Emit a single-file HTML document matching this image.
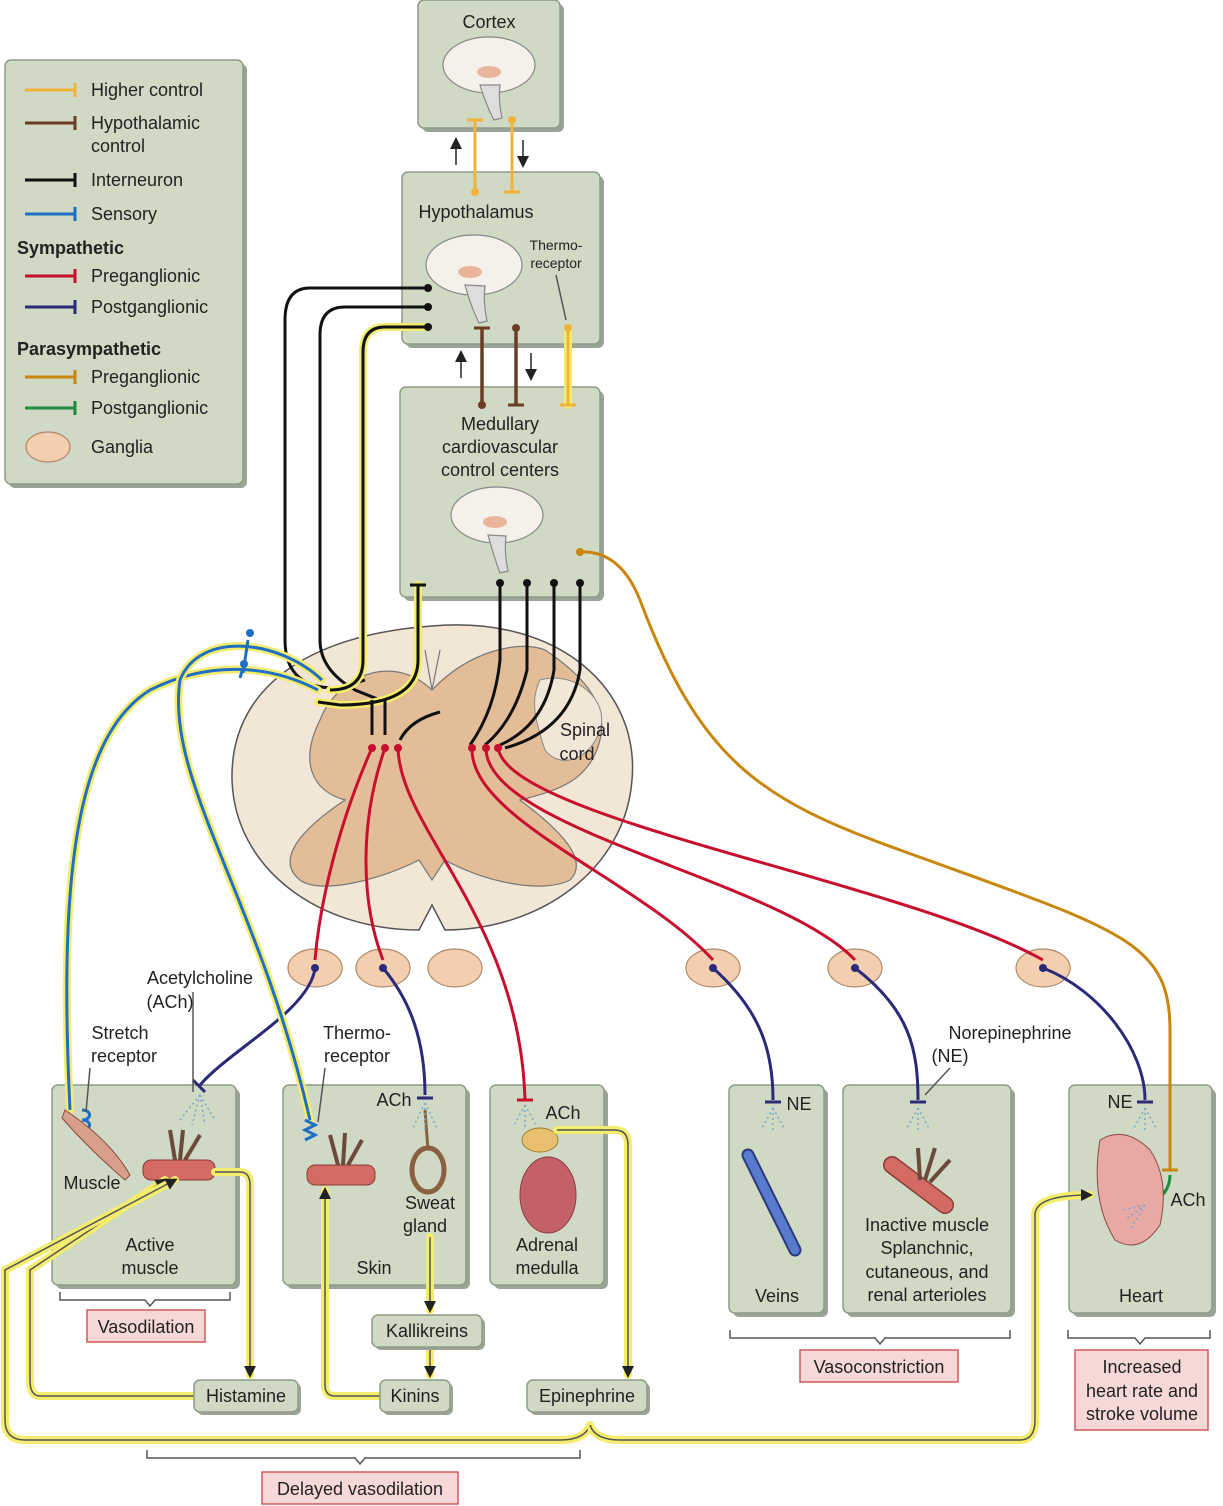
<!DOCTYPE html>
<html><head><meta charset="utf-8"><style>
html,body{margin:0;padding:0;background:#fff;}
svg{display:block;font-family:"Liberation Sans",Arial,sans-serif;}
.box{fill:#cfd9c4;stroke:#8e9c86;stroke-width:1.5;}
.sh{fill:#9aa395;}
.pink{fill:#f6d8d6;stroke:#d0595c;stroke-width:1.5;}
.t{font-size:18px;fill:#222;}
.ts{font-size:14px;fill:#222;}
.yel{fill:none;stroke:#f4ec6c;stroke-width:8;stroke-linecap:round;}
.blu{fill:none;stroke:#1f6fc4;stroke-width:3;}
.blk{fill:none;stroke:#111;stroke-width:3;}
.red{fill:none;stroke:#c8102e;stroke-width:3;}
.nav{fill:none;stroke:#2a2a78;stroke-width:3;}
.org{fill:none;stroke:#c8860c;stroke-width:3;}
.grn{fill:none;stroke:#1e8c3a;stroke-width:3;}
.brn{fill:none;stroke:#6b3c24;stroke-width:3.5;}
.gry{fill:none;stroke:#555;stroke-width:1.5;}
.gan{fill:#f3cfb0;stroke:#b08868;stroke-width:1.2;}
</style></head><body>
<svg width="1223" height="1506" viewBox="0 0 1223 1506" xmlns="http://www.w3.org/2000/svg">
<defs>
<marker id="ar" markerWidth="8" markerHeight="8" refX="6" refY="4" orient="auto"><path d="M0,0 L8,4 L0,8 z" fill="#222"/></marker>
</defs>

<!-- Boxes with shadow -->
<g>
<rect class="sh" x="9" y="64" width="238" height="424" rx="6"/><rect class="box" x="5" y="60" width="238" height="424" rx="6"/>
<rect class="sh" x="422" y="4" width="142" height="128" rx="6"/><rect class="box" x="418" y="0" width="142" height="128" rx="6"/>
<rect class="sh" x="406" y="176" width="198" height="172" rx="6"/><rect class="box" x="402" y="172" width="198" height="172" rx="6"/>
<rect class="sh" x="404" y="391" width="200" height="210" rx="6"/><rect class="box" x="400" y="387" width="200" height="210" rx="6"/>
<rect class="sh" x="56" y="1089" width="184" height="200" rx="6"/><rect class="box" x="52" y="1085" width="184" height="200" rx="6"/>
<rect class="sh" x="287" y="1089" width="183" height="200" rx="6"/><rect class="box" x="283" y="1085" width="183" height="200" rx="6"/>
<rect class="sh" x="494" y="1089" width="114" height="200" rx="6"/><rect class="box" x="490" y="1085" width="114" height="200" rx="6"/>
<rect class="sh" x="733" y="1089" width="95" height="228" rx="6"/><rect class="box" x="729" y="1085" width="95" height="228" rx="6"/>
<rect class="sh" x="847" y="1089" width="168" height="228" rx="6"/><rect class="box" x="843" y="1085" width="168" height="228" rx="6"/>
<rect class="sh" x="1073" y="1089" width="143" height="228" rx="6"/><rect class="box" x="1069" y="1085" width="143" height="228" rx="6"/>
</g>

<!-- Legend -->
<g>
<line x1="25" y1="90" x2="75" y2="90" stroke="#f0b43a" stroke-width="3"/><line x1="75" y1="83" x2="75" y2="97" stroke="#f0b43a" stroke-width="3"/>
<text class="t" x="91" y="96">Higher control</text>
<line x1="25" y1="123" x2="75" y2="123" stroke="#6b3c24" stroke-width="3"/><line x1="75" y1="116" x2="75" y2="130" stroke="#6b3c24" stroke-width="3"/>
<text class="t" x="91" y="129">Hypothalamic</text><text class="t" x="91" y="152">control</text>
<line x1="25" y1="180" x2="75" y2="180" stroke="#111" stroke-width="3"/><line x1="75" y1="173" x2="75" y2="187" stroke="#111" stroke-width="3"/>
<text class="t" x="91" y="186">Interneuron</text>
<line x1="25" y1="214" x2="75" y2="214" stroke="#1f6fc4" stroke-width="3"/><line x1="75" y1="207" x2="75" y2="221" stroke="#1f6fc4" stroke-width="3"/>
<text class="t" x="91" y="220">Sensory</text>
<text class="t" x="17" y="254" font-weight="bold">Sympathetic</text>
<line x1="25" y1="276" x2="75" y2="276" stroke="#c8102e" stroke-width="3"/><line x1="75" y1="269" x2="75" y2="283" stroke="#c8102e" stroke-width="3"/>
<text class="t" x="91" y="282">Preganglionic</text>
<line x1="25" y1="307" x2="75" y2="307" stroke="#2a2a78" stroke-width="3"/><line x1="75" y1="300" x2="75" y2="314" stroke="#2a2a78" stroke-width="3"/>
<text class="t" x="91" y="313">Postganglionic</text>
<text class="t" x="17" y="355" font-weight="bold">Parasympathetic</text>
<line x1="25" y1="377" x2="75" y2="377" stroke="#c8860c" stroke-width="3"/><line x1="75" y1="370" x2="75" y2="384" stroke="#c8860c" stroke-width="3"/>
<text class="t" x="91" y="383">Preganglionic</text>
<line x1="25" y1="408" x2="75" y2="408" stroke="#1e8c3a" stroke-width="3"/><line x1="75" y1="401" x2="75" y2="415" stroke="#1e8c3a" stroke-width="3"/>
<text class="t" x="91" y="414">Postganglionic</text>
<ellipse class="gan" cx="48" cy="447" rx="22" ry="15"/>
<text class="t" x="91" y="453">Ganglia</text>
</g>

<!-- Brains -->
<g fill="#f4f0ea" stroke="#888" stroke-width="1.2">
<ellipse cx="489" cy="65" rx="46" ry="28"/><path d="M480,85 q6,20 14,35 l8,-2 q-4,-18 -2,-33z" fill="#ddd"/>
<ellipse cx="474" cy="265" rx="48" ry="30"/><path d="M465,285 q6,22 14,38 l8,-2 q-4,-20 -2,-35z" fill="#ddd"/>
<ellipse cx="497" cy="515" rx="46" ry="28"/><path d="M488,535 q6,22 12,38 l8,-2 q-4,-20 -2,-35z" fill="#ddd"/>
</g>
<g fill="#e9b59a" stroke="none"><ellipse cx="489" cy="72" rx="12" ry="6"/><ellipse cx="470" cy="272" rx="12" ry="6"/><ellipse cx="495" cy="522" rx="12" ry="6"/></g>

<text class="t" x="489" y="28" text-anchor="middle">Cortex</text>
<text class="t" x="476" y="218" text-anchor="middle">Hypothalamus</text>
<text class="ts" x="556" y="250" text-anchor="middle">Thermo-</text><text class="ts" x="556" y="268" text-anchor="middle">receptor</text>
<line class="gry" x1="556" y1="275" x2="566" y2="320"/>
<text class="t" x="500" y="430" text-anchor="middle">Medullary</text>
<text class="t" x="500" y="453" text-anchor="middle">cardiovascular</text>
<text class="t" x="500" y="476" text-anchor="middle">control centers</text>

<!-- small arrows between boxes -->
<line x1="456" y1="165" x2="456" y2="140" stroke="#222" stroke-width="1.5" marker-end="url(#ar)"/>
<line x1="523" y1="140" x2="523" y2="165" stroke="#222" stroke-width="1.5" marker-end="url(#ar)"/>
<line x1="461" y1="378" x2="461" y2="353" stroke="#222" stroke-width="1.5" marker-end="url(#ar)"/>
<line x1="531" y1="353" x2="531" y2="378" stroke="#222" stroke-width="1.5" marker-end="url(#ar)"/>

<!-- higher control -->
<line x1="475" y1="120" x2="475" y2="192" stroke="#f0b43a" stroke-width="3"/><line x1="467" y1="120" x2="483" y2="120" stroke="#f0b43a" stroke-width="3"/><circle cx="475" cy="192" r="4" fill="#f0b43a"/>
<line x1="512" y1="120" x2="512" y2="192" stroke="#f0b43a" stroke-width="3"/><line x1="504" y1="192" x2="520" y2="192" stroke="#f0b43a" stroke-width="3"/><circle cx="512" cy="120" r="4" fill="#f0b43a"/>
<!-- hypothalamic -->
<line class="brn" x1="482" y1="328" x2="482" y2="405"/><line x1="474" y1="328" x2="490" y2="328" stroke="#6b3c24" stroke-width="3"/><circle cx="482" cy="405" r="4" fill="#6b3c24"/>
<line class="brn" x1="516" y1="328" x2="516" y2="405"/><line x1="508" y1="405" x2="524" y2="405" stroke="#6b3c24" stroke-width="3"/><circle cx="516" cy="328" r="4" fill="#6b3c24"/>
<line class="yel" x1="568" y1="328" x2="568" y2="405" stroke-width="8"/><line x1="568" y1="328" x2="568" y2="405" stroke="#f0b43a" stroke-width="3"/><line x1="560" y1="405" x2="576" y2="405" stroke="#f0b43a" stroke-width="3"/><circle cx="568" cy="328" r="4" fill="#f0b43a"/>

<!-- Spinal cord -->
<path d="M432,626 C560,615 640,690 632,780 C625,870 540,930 445,930 L432,905 L419,930 C320,930 235,870 232,780 C230,690 305,635 432,626z" fill="#f2e6d6" stroke="#555" stroke-width="1.5"/>
<path d="M432,690 C470,650 520,640 545,650 C575,670 610,700 600,740 C590,780 560,790 520,800 C560,830 590,860 570,880 C540,895 480,880 445,860 L432,880 L419,860 C380,880 320,895 300,880 C275,860 300,830 345,800 C310,790 300,760 320,720 C335,680 390,650 432,690z" fill="#e3bd98" stroke="#777" stroke-width="1.2"/>
<path d="M425,650 L432,690 L440,650" fill="none" stroke="#777" stroke-width="1.2"/>
<path d="M540,680 C575,670 610,700 600,730 C590,760 560,770 545,750 C535,720 530,700 540,680z" fill="#f2e6d6" stroke="#888" stroke-width="1"/>
<text class="t" x="585" y="736" text-anchor="middle">Spinal</text><text class="t" x="577" y="760" text-anchor="middle">cord</text>

<!-- Ganglia -->
<g>
<ellipse class="gan" cx="315" cy="968" rx="27" ry="19"/>
<ellipse class="gan" cx="383" cy="968" rx="27" ry="19"/>
<ellipse class="gan" cx="455" cy="968" rx="27" ry="19"/>
<ellipse class="gan" cx="713" cy="968" rx="27" ry="19"/>
<ellipse class="gan" cx="855" cy="968" rx="27" ry="19"/>
<ellipse class="gan" cx="1043" cy="968" rx="27" ry="19"/>
</g>

<!-- interneurons from hypothalamus -->
<path class="blk" d="M428,288 L310,288 Q285,288 285,320 L285,640 Q285,690 340,688 L365,680"/>
<path class="blk" d="M428,307 L345,307 Q320,307 320,335 L320,640 Q320,670 355,690 L380,700"/>
<path class="yel" d="M428,327 L385,327 Q363,327 363,352 L363,660 Q363,690 330,690"/>
<path class="blk" d="M428,327 L385,327 Q363,327 363,352 L363,660 Q363,690 330,690"/>
<circle cx="428" cy="288" r="4" fill="#111"/><circle cx="428" cy="307" r="4" fill="#111"/><circle cx="428" cy="327" r="4" fill="#111"/>
<!-- medullary yellow-outlined interneuron -->
<path class="yel" d="M418,585 L418,660 Q418,705 340,705 L318,702"/>
<path class="blk" d="M418,585 L418,660 Q418,705 340,705 L318,702"/>
<line x1="410" y1="585" x2="426" y2="585" stroke="#111" stroke-width="3"/>
<path class="blk" d="M372,700 L372,735"/><path class="blk" d="M385,700 L385,735"/>
<path class="blk" d="M440,712 Q410,720 400,740"/>
<!-- medullary interneurons to right -->
<path class="blk" d="M500,583 L500,660 Q495,710 470,745"/>
<path class="blk" d="M527,583 L527,670 Q515,720 485,745"/>
<path class="blk" d="M554,583 L554,670 Q545,725 500,745"/>
<path class="blk" d="M580,583 L580,670 Q570,730 505,748"/>
<g fill="#111"><circle cx="500" cy="583" r="4"/><circle cx="527" cy="583" r="4"/><circle cx="554" cy="583" r="4"/><circle cx="580" cy="583" r="4"/></g>

<!-- parasympathetic to heart -->
<path class="org" d="M580,552 Q620,550 640,600 C700,760 760,800 900,850 C1120,930 1170,940 1170,1030 L1170,1170"/>
<circle cx="580" cy="552" r="4" fill="#c8860c"/>
<line x1="1162" y1="1170" x2="1178" y2="1170" stroke="#c8860c" stroke-width="3"/>
<path class="grn" d="M1170,1175 Q1170,1195 1148,1205"/>

<!-- preganglionic red -->
<path class="red" d="M372,748 C340,820 320,900 315,960"/>
<path class="red" d="M385,748 C360,820 360,900 383,960"/>
<path class="red" d="M398,748 C400,830 520,920 525,1100"/>
<path class="red" d="M472,748 C470,820 640,880 713,960"/>
<path class="red" d="M486,748 C486,830 780,880 855,960"/>
<path class="red" d="M498,748 C510,820 900,880 1043,960"/>
<g fill="#c8102e"><circle cx="372" cy="748" r="4"/><circle cx="385" cy="748" r="4"/><circle cx="398" cy="748" r="4"/><circle cx="472" cy="748" r="4"/><circle cx="486" cy="748" r="4"/><circle cx="498" cy="748" r="4"/></g>
<line x1="517" y1="1100" x2="533" y2="1100" stroke="#c8102e" stroke-width="3"/>

<!-- postganglionic -->
<path class="nav" d="M315,968 C310,1010 230,1050 200,1085"/>
<path class="nav" d="M383,968 C410,1000 425,1040 425,1095"/>
<path class="nav" d="M713,968 C760,1010 773,1050 773,1100"/>
<path class="nav" d="M855,968 C910,1010 918,1050 918,1100"/>
<path class="nav" d="M1043,968 C1100,990 1145,1050 1145,1100"/>
<g stroke="#2a2a78" stroke-width="3"><line x1="193" y1="1080" x2="205" y2="1092"/><line x1="417" y1="1098" x2="433" y2="1098"/><line x1="765" y1="1102" x2="781" y2="1102"/><line x1="910" y1="1102" x2="926" y2="1102"/><line x1="1137" y1="1102" x2="1153" y2="1102"/></g>
<g fill="#2a2a78"><circle cx="315" cy="968" r="4"/><circle cx="383" cy="968" r="4"/><circle cx="713" cy="968" r="4"/><circle cx="855" cy="968" r="4"/><circle cx="1043" cy="968" r="4"/></g>

<!-- sensory -->
<path class="yel" d="M318,690 C270,665 210,660 150,690 C70,740 60,900 70,1110"/>
<path class="blu" d="M318,690 C270,665 210,660 150,690 C70,740 60,900 70,1110"/>
<path class="yel" d="M322,680 C280,640 200,630 180,680 C165,780 260,900 310,1120"/>
<path class="blu" d="M322,680 C280,640 200,630 180,680 C165,780 260,900 310,1120"/>
<path class="blu" d="M243,673 L248,640"/><circle cx="250" cy="633" r="4" fill="#1f6fc4"/>
<path class="blu" d="M240,678 L243,668"/><circle cx="244" cy="664" r="4" fill="#1f6fc4"/>
<path d="M305,1120 l10,5 l-10,5 l10,5 l-10,5" fill="none" stroke="#1f6fc4" stroke-width="3"/>
<path d="M82,1110 c10,0 10,10 0,10 c10,0 10,10 0,10" fill="none" stroke="#1f6fc4" stroke-width="3"/>

<!-- Organ shapes -->
<path d="M65,1110 Q110,1140 130,1175 L125,1180 Q90,1150 62,1118z" fill="#d8a08c" stroke="#8a4a3a" stroke-width="1"/>
<rect x="143" y="1160" width="72" height="20" rx="8" fill="#d46a64" stroke="#8a3a34"/>
<path d="M175,1160 L170,1130 M180,1160 L183,1130 M185,1160 L200,1135" stroke="#6b4a3a" stroke-width="4" fill="none"/>
<rect x="307" y="1165" width="68" height="20" rx="8" fill="#d46a64" stroke="#8a3a34"/>
<path d="M338,1165 L330,1135 M343,1165 L345,1133 M348,1165 L362,1140" stroke="#6b4a3a" stroke-width="4" fill="none"/>
<ellipse cx="428" cy="1170" rx="16" ry="22" fill="none" stroke="#8a6040" stroke-width="5"/>
<line x1="425" y1="1110" x2="428" y2="1150" stroke="#8a6040" stroke-width="3"/>
<ellipse cx="548" cy="1195" rx="28" ry="38" fill="#c4606a" stroke="#8a3a40"/>
<ellipse cx="540" cy="1140" rx="18" ry="12" fill="#e8c070" stroke="#a08040"/>
<path d="M748,1155 L795,1250" stroke="#2a3a78" stroke-width="13" stroke-linecap="round"/>
<path d="M748,1155 L795,1250" stroke="#5a7ad0" stroke-width="9" stroke-linecap="round"/>
<path d="M892,1165 L945,1205" stroke="#8a3a34" stroke-width="18" stroke-linecap="round"/>
<path d="M892,1165 L945,1205" stroke="#d46a64" stroke-width="15" stroke-linecap="round"/>
<path d="M920,1180 L918,1148 M925,1180 L935,1148 M930,1182 L950,1160" stroke="#6b4a3a" stroke-width="4" fill="none"/>
<path d="M1100,1140 Q1090,1200 1115,1240 Q1140,1255 1160,1225 Q1170,1180 1150,1150 Q1125,1125 1100,1140z" fill="#e8a8a4" stroke="#8a4a48"/>
<!-- spray dots -->
<g fill="none" stroke="#7aa8c8" stroke-width="1.5" stroke-dasharray="2,3">
<path d="M200,1095 l-20,25 M200,1095 l-8,30 M200,1095 l5,30 M200,1095 l15,25"/>
<path d="M425,1103 l-12,25 M425,1103 l0,28 M425,1103 l12,25"/>
<path d="M525,1105 l-12,22 M525,1105 l0,25 M525,1105 l12,22"/>
<path d="M773,1108 l-12,22 M773,1108 l0,25 M773,1108 l12,22"/>
<path d="M918,1108 l-12,22 M918,1108 l0,25 M918,1108 l12,22"/>
<path d="M1145,1108 l-12,22 M1145,1108 l0,25 M1145,1108 l12,22"/>
<path d="M1145,1205 l-20,15 M1145,1205 l-22,5 M1145,1205 l-15,25"/>
</g>

<!-- Organ labels -->
<g class="t">
<text class="t" x="200" y="984" text-anchor="middle">Acetylcholine</text><text class="t" x="170" y="1008" text-anchor="middle">(ACh)</text>
<text class="t" x="120" y="1039" text-anchor="middle">Stretch</text><text class="t" x="124" y="1062" text-anchor="middle">receptor</text>
<text class="t" x="357" y="1039" text-anchor="middle">Thermo-</text><text class="t" x="357" y="1062" text-anchor="middle">receptor</text>
<text class="t" x="1010" y="1039" text-anchor="middle">Norepinephrine</text><text class="t" x="950" y="1062" text-anchor="middle">(NE)</text>
<text class="t" x="92" y="1189" text-anchor="middle">Muscle</text>
<text class="t" x="150" y="1251" text-anchor="middle">Active</text><text class="t" x="150" y="1274" text-anchor="middle">muscle</text>
<text class="t" x="394" y="1106" text-anchor="middle">ACh</text>
<text class="t" x="430" y="1209" text-anchor="middle">Sweat</text><text class="t" x="425" y="1232" text-anchor="middle">gland</text>
<text class="t" x="374" y="1274" text-anchor="middle">Skin</text>
<text class="t" x="563" y="1119" text-anchor="middle">ACh</text>
<text class="t" x="547" y="1251" text-anchor="middle">Adrenal</text><text class="t" x="547" y="1274" text-anchor="middle">medulla</text>
<text class="t" x="799" y="1110" text-anchor="middle">NE</text>
<text class="t" x="777" y="1302" text-anchor="middle">Veins</text>
<text class="t" x="927" y="1231" text-anchor="middle">Inactive muscle</text><text class="t" x="927" y="1254" text-anchor="middle">Splanchnic,</text><text class="t" x="927" y="1278" text-anchor="middle">cutaneous, and</text><text class="t" x="927" y="1301" text-anchor="middle">renal arterioles</text>
<text class="t" x="1120" y="1108" text-anchor="middle">NE</text>
<text class="t" x="1188" y="1206" text-anchor="middle">ACh</text>
<text class="t" x="1141" y="1302" text-anchor="middle">Heart</text>
</g>
<g class="gry"><line x1="90" y1="1068" x2="86" y2="1112"/><line x1="193" y1="992" x2="193" y2="1092"/><line x1="325" y1="1068" x2="318" y2="1122"/><line x1="950" y1="1068" x2="925" y2="1095"/></g>

<!-- Humoral yellow pathways -->
<g>
<path class="yel" d="M215,1172 L240,1172 Q250,1172 250,1185 L250,1375"/>
<path class="gry" d="M215,1172 L240,1172 Q250,1172 250,1185 L250,1375" marker-end="url(#ar)"/>
<path class="yel" d="M194,1396 L40,1396 Q30,1396 30,1380 L30,1270 L165,1180"/>
<path class="gry" d="M194,1396 L40,1396 Q30,1396 30,1380 L30,1270 L165,1180" marker-end="url(#ar)"/>
<path class="yel" d="M590,1425 Q585,1440 560,1440 L25,1440 Q5,1440 5,1420 L5,1270 L175,1180"/>
<path class="gry" d="M590,1425 Q585,1440 560,1440 L25,1440 Q5,1440 5,1420 L5,1270 L175,1180" marker-end="url(#ar)"/>
<path class="yel" d="M590,1425 Q595,1440 620,1440 L1020,1440 Q1035,1440 1035,1420 L1035,1215 Q1035,1195 1090,1195"/>
<path class="gry" d="M590,1425 Q595,1440 620,1440 L1020,1440 Q1035,1440 1035,1420 L1035,1215 Q1035,1195 1090,1195" marker-end="url(#ar)"/>
<path class="yel" d="M557,1130 L615,1130 Q628,1130 628,1145 L628,1375"/>
<path class="gry" d="M557,1130 L615,1130 Q628,1130 628,1145 L628,1375" marker-end="url(#ar)"/>
<path class="yel" d="M430,1237 L430,1310"/><path class="gry" d="M430,1237 L430,1310" marker-end="url(#ar)"/>
<path class="yel" d="M430,1347 L430,1375"/><path class="gry" d="M430,1347 L430,1375" marker-end="url(#ar)"/>
<path class="yel" d="M380,1396 L335,1396 Q325,1396 325,1385 L325,1190"/>
<path class="gry" d="M380,1396 L335,1396 Q325,1396 325,1385 L325,1190" marker-end="url(#ar)"/>
</g>

<!-- small boxes -->
<rect class="sh" x="375" y="1318" width="110" height="32" rx="6"/><rect class="box" x="372" y="1315" width="110" height="32" rx="6"/>
<text class="t" x="427" y="1337" text-anchor="middle">Kallikreins</text>
<rect class="sh" x="197" y="1383" width="104" height="32" rx="6"/><rect class="box" x="194" y="1380" width="104" height="32" rx="6"/>
<text class="t" x="246" y="1402" text-anchor="middle">Histamine</text>
<rect class="sh" x="383" y="1383" width="70" height="32" rx="6"/><rect class="box" x="380" y="1380" width="70" height="32" rx="6"/>
<text class="t" x="415" y="1402" text-anchor="middle">Kinins</text>
<rect class="sh" x="530" y="1383" width="120" height="32" rx="6"/><rect class="box" x="527" y="1380" width="120" height="32" rx="6"/>
<text class="t" x="587" y="1402" text-anchor="middle">Epinephrine</text>

<!-- braces -->
<g class="gry">
<path d="M60,1292 L60,1300 L145,1300 L150,1306 L155,1300 L230,1300 L230,1292"/>
<path d="M730,1330 L730,1338 L875,1338 L880,1344 L885,1338 L1010,1338 L1010,1330"/>
<path d="M1068,1330 L1068,1338 L1135,1338 L1140,1344 L1145,1338 L1210,1338 L1210,1330"/>
<path d="M147,1450 L147,1458 L355,1458 L360,1464 L365,1458 L580,1458 L580,1450"/>
</g>

<!-- pink labels -->
<rect class="pink" x="87" y="1310" width="118" height="32"/><text class="t" x="146" y="1333" text-anchor="middle">Vasodilation</text>
<rect class="pink" x="800" y="1350" width="158" height="32"/><text class="t" x="879" y="1373" text-anchor="middle">Vasoconstriction</text>
<rect class="pink" x="1075" y="1350" width="133" height="80"/><text class="t" x="1142" y="1373" text-anchor="middle">Increased</text><text class="t" x="1142" y="1397" text-anchor="middle">heart rate and</text><text class="t" x="1142" y="1420" text-anchor="middle">stroke volume</text>
<rect class="pink" x="262" y="1472" width="196" height="32"/><text class="t" x="360" y="1495" text-anchor="middle">Delayed vasodilation</text>
</svg>
</body></html>
